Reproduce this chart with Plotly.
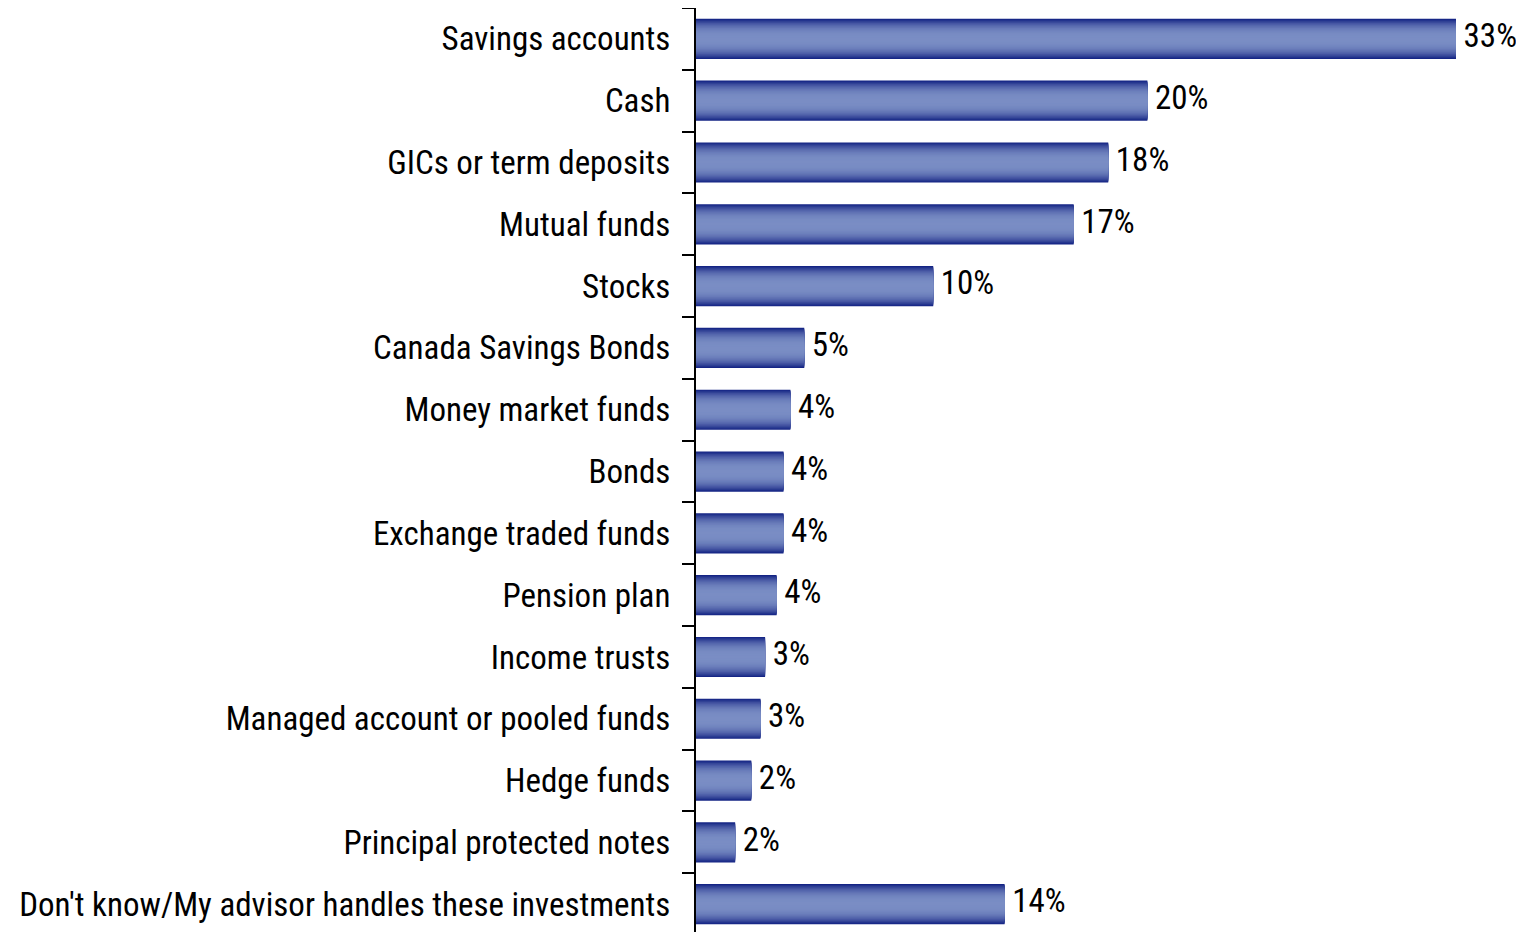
import plotly.graph_objects as go

categories = [
    "Savings accounts", "Cash", "GICs or term deposits", "Mutual funds", "Stocks",
    "Canada Savings Bonds", "Money market funds", "Bonds", "Exchange traded funds",
    "Pension plan", "Income trusts", "Managed account or pooled funds", "Hedge funds",
    "Principal protected notes", "Don't know/My advisor handles these investments",
]
values = [33.0, 19.6, 17.9, 16.4, 10.3, 4.7, 4.1, 3.8, 3.8, 3.5, 3.0, 2.8, 2.4, 1.7, 13.4]
labels = ["33%", "20%", "18%", "17%", "10%", "5%", "4%", "4%", "4%", "4%", "3%", "3%", "2%", "2%", "14%"]

FONT = "Liberation Sans Narrow, Arial Narrow, Roboto Condensed, Liberation Sans, sans-serif"

dark = (20, 36, 132)
light = (122, 141, 196)
N = 24
full_w = 0.65

fig = go.Figure()
for k in range(N):
    t = k / (N - 1)
    s = 1 - (1 - t) ** 2.6
    c = tuple(int(round(dark[i] + (light[i] - dark[i]) * s)) for i in range(3))
    w = full_w * (1 - k / N)
    fig.add_trace(go.Bar(
        y=categories, x=values, orientation="h", width=w,
        marker=dict(color="rgb(%d,%d,%d)" % c, line=dict(width=0)),
        hoverinfo="skip", showlegend=False,
    ))

fig.add_trace(go.Scatter(
    y=categories, x=values, mode="text", text=[" " + s for s in labels],
    textposition="middle right",
    textfont=dict(family=FONT, size=33, color="black"),
    showlegend=False, cliponaxis=False, hoverinfo="skip",
))

fig.update_layout(
    width=1516, height=924,
    margin=dict(l=688, r=0, t=0, b=0),
    paper_bgcolor="white", plot_bgcolor="white",
    barmode="overlay",
    xaxis=dict(range=[0, 828 / 23.03], visible=False, showgrid=False, zeroline=False),
    yaxis=dict(
        categoryorder="array", categoryarray=categories,
        range=[14.45, -0.5],
        showline=True, linecolor="black", linewidth=2,
        ticks="outside", tickson="boundaries", ticklen=12, tickwidth=2, tickcolor="black",
        ticklabelstandoff=17,
        tickfont=dict(family=FONT, size=33, color="black"),
        showgrid=False, zeroline=False,
    ),
)

fig.write_html("out.html")
